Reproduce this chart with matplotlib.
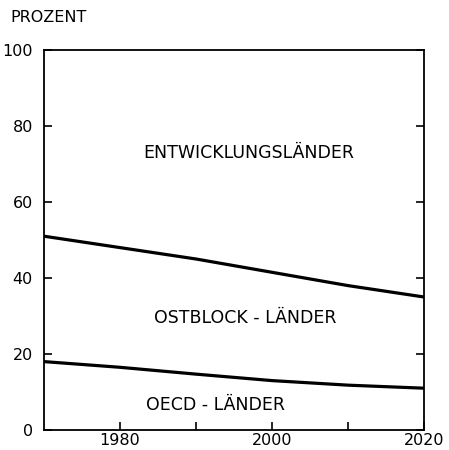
import matplotlib
matplotlib.use("Agg")
import matplotlib.pyplot as plt

years = [1970, 1980, 1990, 2000, 2010, 2020]
ostblock_upper = [51, 48, 45, 41.5, 38, 35]
oecd_upper = [18, 16.5, 14.7, 13, 11.8, 11]
y_ticks = [0, 20, 40, 60, 80, 100]
x_ticks = [1980, 2000, 2020]
x_minor = [1990, 2010]

plt.rcParams['font.family'] = 'DejaVu Sans'
fig = plt.figure(figsize=(4.49, 4.5), dpi=100)
ax = fig.add_axes([44 / 449, 20 / 450, 380 / 449, 380 / 450])

ax.plot(years, ostblock_upper, color='black', lw=2.3)
ax.plot(years, oecd_upper, color='black', lw=2.3)

ax.set_xlim(1970, 2020)
ax.set_ylim(0, 100)
ax.set_yticks(y_ticks)
ax.set_xticks(x_ticks)
ax.set_xticks(x_minor, minor=True)
ax.tick_params(axis='both', direction='in', length=6, width=1.2, labelsize=11.5)
ax.tick_params(axis='y', right=True, pad=8)
ax.tick_params(axis='x', which='minor', direction='in', length=6, width=1.2)
ax.tick_params(axis='x', pad=2)
for s in ax.spines.values():
    s.set_linewidth(1.3)

ax.text(1997, 73, 'ENTWICKLUNGSLÄNDER', ha='center', va='center', fontsize=12.5)
ax.text(1996.5, 29.5, 'OSTBLOCK - LÄNDER', ha='center', va='center', fontsize=12.5)
ax.text(1992.5, 6.6, 'OECD - LÄNDER', ha='center', va='center', fontsize=12.5)
fig.text(10 / 449, 1 - 18 / 450, 'PROZENT', ha='left', va='center', fontsize=11.5)

fig.savefig('out.png', dpi=100)
